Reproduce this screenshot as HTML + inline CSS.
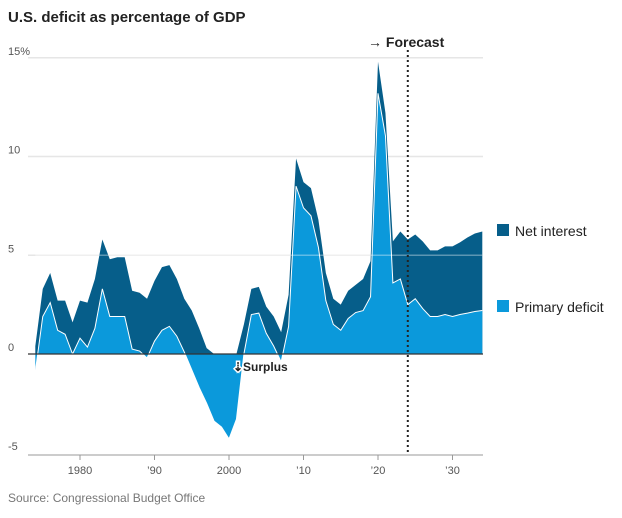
<!DOCTYPE html>
<html><head><meta charset="utf-8"><style>
body{margin:0;background:#fff;font-family:"Liberation Sans",sans-serif;}
svg text{font-family:"Liberation Sans",sans-serif;}
</style></head><body>
<svg width="622" height="513" viewBox="0 0 622 513">
<text x="8" y="22" font-size="15" font-weight="bold" fill="#222">U.S. deficit as percentage of GDP</text>
<g id="grid"></g>
<g id="areas"></g>
<g id="axes"></g>
<text x="8" y="502" font-size="12" fill="#777">Source: Congressional Budget Office</text>
<rect x="497" y="224" width="12" height="12" fill="#065e8a"/>
<text x="515" y="236" font-size="14" fill="#222">Net interest</text>
<rect x="497" y="300" width="12" height="12" fill="#0b99db"/>
<text x="515" y="312" font-size="14" fill="#222">Primary deficit</text>
</svg>
<script>
const years=[];for(let y=1974;y<=2034;y++)years.push(y);
const totalDeficit=[0.4,3.3,4.1,2.7,2.7,1.6,2.7,2.6,3.8,5.8,4.8,4.9,4.9,3.2,3.1,2.8,3.7,4.4,4.5,3.8,2.8,2.2,1.3,0.3,-0.8,-1.3,-2.3,-1.2,1.5,3.3,3.4,2.4,1.9,1.1,3.0,9.9,8.7,8.4,6.8,4.1,2.8,2.5,3.2,3.5,3.8,4.7,14.8,12.2,5.7,6.2,5.8,6.05,5.7,5.25,5.25,5.45,5.45,5.65,5.9,6.1,6.2];
const primaryDeficit=[-0.9,1.9,2.6,1.2,1.0,0.0,0.8,0.35,1.3,3.3,1.9,1.9,1.9,0.25,0.15,-0.2,0.65,1.2,1.4,0.9,0.1,-0.8,-1.7,-2.5,-3.4,-3.7,-4.3,-3.3,0.0,2.0,2.07,1.05,0.4,-0.4,1.4,8.5,7.4,7.0,5.4,2.7,1.5,1.2,1.8,2.1,2.2,2.9,13.2,11.05,3.6,3.8,2.5,2.8,2.3,1.9,1.9,2.0,1.9,2.0,2.07,2.15,2.2];
const yTicks=[15,10,5,0,-5];
const yTickLabels=["15%","10","5","0","-5"];
const xTicks=[1980,1990,2000,2010,2020,2030];
const xTickLabels=["1980","’90","2000","’10","’20","’30"];
const forecastYear=2024;
const NS="http://www.w3.org/2000/svg";
const X=y=>80+(y-1980)*7.45;
const Y=v=>354-v*19.75;
function mk(tag,attrs,parent){const e=document.createElementNS(NS,tag);for(const k in attrs)e.setAttribute(k,attrs[k]);parent.appendChild(e);return e;}
const grid=document.getElementById('grid'),areas=document.getElementById('areas'),axes=document.getElementById('axes');
yTicks.forEach((t,i)=>{
  if(t!==0&&t!==-5){const l=mk('line',{x1:28,x2:483,y1:Y(t),y2:Y(t),stroke:'#e6e6e6','stroke-width':1.5},grid);
  
  }
  const tx=mk('text',{x:8,y:Y(t)-3,'font-size':11,fill:'#555'},axes);tx.textContent=yTickLabels[i];
  
  
});
let d='M'+X(years[0])+','+Y(0);
years.forEach((y,i)=>{d+=' L'+X(y)+','+Y(Math.max(0,totalDeficit[i]));});
d+=' L'+X(years[years.length-1])+','+Y(0)+'Z';
const net=mk('path',{d:d,fill:'#065e8a'},areas);


let d2='M'+X(years[0])+','+Y(0);let line='';
years.forEach((y,i)=>{d2+=' L'+X(y)+','+Y(primaryDeficit[i]);line+=(i?' L':'M')+X(y)+','+Y(primaryDeficit[i]);});
d2+=' L'+X(years[years.length-1])+','+Y(0)+'Z';
const prim=mk('path',{d:d2,fill:'#0b99db'},areas);


const pl=mk('path',{d:line,fill:'none',stroke:'#fff','stroke-width':1},areas);


const g5=mk('line',{x1:X(years[0]),x2:483,y1:Y(5),y2:Y(5),stroke:'#fff','stroke-opacity':0.35,'stroke-width':1.5},areas);


const z=mk('line',{x1:28,x2:483,y1:Y(0),y2:Y(0),stroke:'#333','stroke-width':1.2},axes);


const xa=mk('line',{x1:28,x2:483,y1:455,y2:455,stroke:'#999','stroke-width':1},axes);


xTicks.forEach((t,i)=>{
  const tk=mk('line',{x1:X(t),x2:X(t),y1:455,y2:460,stroke:'#999'},axes);
  
  
  const tx=mk('text',{x:X(t),y:474,'font-size':11,fill:'#555','text-anchor':'middle'},axes);tx.textContent=xTickLabels[i];
  
  
});
const fl=mk('line',{x1:X(forecastYear),x2:X(forecastYear),y1:50,y2:455,stroke:'#222','stroke-width':2,'stroke-dasharray':'2,3'},axes);


const ft=mk('text',{x:368,y:47,'font-size':14,'font-weight':'bold',fill:'#222'},axes);ft.textContent='→ Forecast';


const st=mk('text',{x:233,y:371,'font-size':12,'font-weight':'bold',fill:'#222',stroke:'#fff','stroke-width':3,'paint-order':'stroke'},axes);st.textContent='⇣Surplus';


</script>
</body></html>
